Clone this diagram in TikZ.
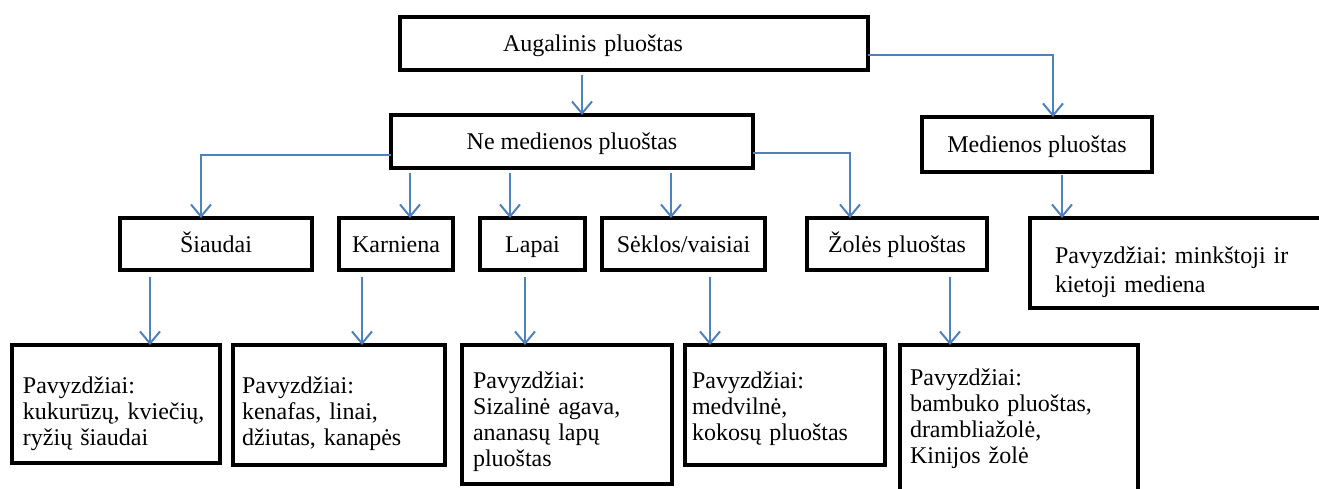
\documentclass[tikz,border=0pt]{standalone}
\usepackage{fontspec}
\setmainfont{Liberation Serif}
\usetikzlibrary{arrows.meta}
\definecolor{arrowblue}{RGB}{79,129,189}

\begin{document}
\begin{tikzpicture}[x=0.5pt, y=-0.5pt,
    box/.style={draw, rectangle, line width=2.2pt, outer sep=0pt, anchor=north west, font=\fontsize{12}{13}\selectfont\frenchspacing},
    cat/.style={box, text height=8pt, text depth=0pt},
    pav/.style={box, align=left, inner ysep=0pt},
    arr/.style={draw=arrowblue, line width=1pt, -{Straight Barb[length=6pt,width=10pt]}}]

    \useasboundingbox (0,0) rectangle (1319,488);

    % Nodes
    \node[cat, align=left, inner xsep=51.5pt, text width=131pt, minimum height=26.5pt] (aug) at (400,17) {Augalinis pluoštas};
    \node[cat, minimum width=181pt, minimum height=26.5pt] (nemed) at (391,115) {Ne medienos pluoštas};
    \node[cat, minimum width=115pt, minimum height=27.5pt] (med) at (922,117) {Medienos pluoštas};

    \node[cat, minimum width=96pt, minimum height=26pt] (siaud) at (120,218) {Šiaudai};
    \node[cat, minimum width=57pt, minimum height=26pt] (karn) at (339,218) {Karniena};
    \node[cat, minimum width=52.5pt, minimum height=26pt] (lapai) at (480,218) {Lapai};
    \node[cat, minimum width=81.5pt, minimum height=26pt] (sekl) at (602,218) {Sėklos/vaisiai};
    \node[cat, minimum width=90pt, minimum height=26pt] (zoles) at (807,218) {Žolės pluoštas};
    \node[pav, inner xsep=12.5pt, text width=130.5pt, text height=22.5pt, text depth=22.5pt] (medpav) at (1030,218) {Pavyzdžiai: minkštoji ir\\[1.5pt]kietoji mediena};

    \node[pav, inner xsep=5.5pt, text width=93pt, text height=24pt, text depth=35pt] (pav1) at (12,345) {Pavyzdžiai:\\kukurūzų, kviečių,\\ryžių šiaudai};
    \node[pav, inner xsep=4.5pt, text width=97pt, text height=24pt, text depth=36pt] (pav2) at (233,345) {Pavyzdžiai:\\kenafas, linai,\\džiutas, kanapės};
    \node[pav, inner xsep=5.5pt, text width=94pt, text height=21.5pt, text depth=48pt] (pav3) at (462,345) {Pavyzdžiai:\\Sizalinė agava,\\ananasų lapų\\pluoštas};
    \node[pav, inner xsep=3.5pt, text width=93pt, text height=21.5pt, text depth=38.5pt] (pav4) at (685,345) {Pavyzdžiai:\\medvilnė,\\kokosų pluoštas};
    \node[pav, inner xsep=5pt, text width=109pt, text height=20pt, text depth=53.5pt] (pav5) at (900,345) {Pavyzdžiai:\\bambuko pluoštas,\\drambliažolė,\\Kinijos žolė};

    % Arrows
    \draw[arr] ([xshift=5pt,yshift=-2.5pt]nemed.north |- aug.south) -- ([xshift=5pt]nemed.north);
    \draw[arr] ([yshift=-5.75pt]aug.east) -| ([xshift=8pt]med.north);
    \draw[arr] ([yshift=-6.75pt]nemed.west) -| ([xshift=-7.5pt]siaud.north);
    \draw[arr] ([xshift=7pt,yshift=-2.5pt]karn.north |- nemed.south) -- ([xshift=7pt]karn.north);
    \draw[arr] ([xshift=-11.25pt,yshift=-2.5pt]lapai.north |- nemed.south) -- ([xshift=-11.25pt]lapai.north);
    \draw[arr] ([xshift=-6.25pt,yshift=-2.5pt]sekl.north |- nemed.south) -- ([xshift=-6.25pt]sekl.north);
    \draw[arr] ([yshift=-5.75pt]nemed.east) -| ([xshift=-23.5pt]zoles.north);
    \draw[arr] ([xshift=-61.75pt,yshift=-1.5pt]medpav.north |- med.south) -- ([xshift=-61.75pt]medpav.north);

    \draw[arr] ([xshift=17pt,yshift=-3.5pt]pav1.north |- siaud.south) -- ([xshift=17pt]pav1.north);
    \draw[arr] ([xshift=11.5pt,yshift=-3.5pt]pav2.north |- karn.south) -- ([xshift=11.5pt]pav2.north);
    \draw[arr] ([xshift=-21pt,yshift=-3.5pt]pav3.north |- lapai.south) -- ([xshift=-21pt]pav3.north);
    \draw[arr] ([xshift=-37.5pt,yshift=-3.5pt]pav4.north |- sekl.south) -- ([xshift=-37.5pt]pav4.north);
    \draw[arr] ([xshift=-34.5pt,yshift=-3.5pt]pav5.north |- zoles.south) -- ([xshift=-34.5pt]pav5.north);

\end{tikzpicture}
\end{document}
